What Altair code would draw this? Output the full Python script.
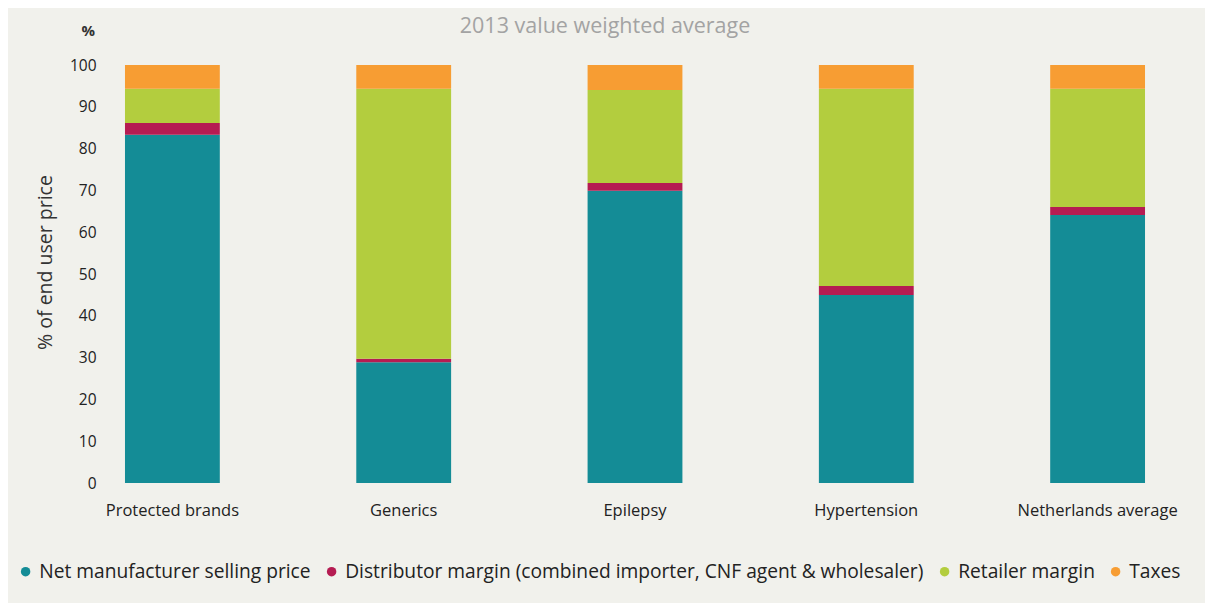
import altair as alt
import pandas as pd

categories = ["Protected brands", "Generics", "Epilepsy", "Hypertension", "Netherlands average"]
series = ["Net manufacturer selling price",
          "Distributor margin (combined importer, CNF agent & wholesaler)",
          "Retailer margin", "Taxes"]
net = [83.3, 28.9, 69.9, 45.0, 64.1]
dist = [2.8, 0.8, 1.9, 2.1, 1.9]
retail = [8.2, 64.6, 22.2, 47.2, 28.3]
taxes = [5.7, 5.7, 6.0, 5.7, 5.7]
colors = ["#148c96", "#b51c52", "#b3cd3e", "#f79d33"]
y_ticks = list(range(0, 101, 10))

rows = []
for vals, s_idx in zip([net, dist, retail, taxes], range(4)):
    for c, v in zip(categories, vals):
        rows.append({"category": c, "series": series[s_idx], "idx": s_idx, "value": v})
df = pd.DataFrame(rows)

FONT = "Open Sans"

bars = alt.Chart(df).mark_bar().encode(
    x=alt.X("category:N", sort=categories,
            scale=alt.Scale(paddingInner=0.59, paddingOuter=0.108),
            axis=alt.Axis(title=None, labelAngle=0, ticks=False, domain=False,
                          labelFontSize=16.5, labelColor="#222", labelPadding=19,
                          labelFont=FONT)),
    y=alt.Y("value:Q", stack="zero",
            scale=alt.Scale(domain=[0, 100], nice=False),
            axis=alt.Axis(values=y_ticks, grid=False, ticks=False, domain=False,
                          labelFontSize=15.5, labelColor="#222", labelPadding=4,
                          labelFont=FONT,
                          title="% of end user price", titleFontSize=19.5,
                          titleFontWeight="normal", titleColor="#333", titleFont=FONT,
                          titleX=-55, titleY=197, titleAlign="center",
                          titleBaseline="middle")),
    color=alt.Color("series:N", sort=series,
                    scale=alt.Scale(domain=series, range=colors),
                    legend=alt.Legend(title=None, orient="none", direction="horizontal",
                                      legendX=-84, legendY=497, symbolType="circle",
                                      symbolSize=90, symbolStrokeWidth=0,
                                      labelFontSize=19.2, labelColor="#222",
                                      labelFont=FONT, columnPadding=11,
                                      labelOffset=4, labelLimit=900)),
    order=alt.Order("idx:Q", sort="ascending"),
)

pct = alt.Chart(pd.DataFrame({"t": ["%"]})).mark_text(
    fontSize=15, font=FONT, fontWeight="bold", color="#333", align="right", baseline="middle"
).encode(text="t:N", x=alt.value(-5), y=alt.value(-34))

chart = alt.layer(bars, pct).properties(
    width=1070, height=418,
    background="#f1f1ec",
    padding={"left": 92, "top": 57, "right": 35, "bottom": 120},
    autosize=alt.AutoSizeParams(type="none"),
    title=alt.TitleParams("2013 value weighted average", fontSize=21.5, color="#a3a3a3",
                          fontWeight="normal", font=FONT, anchor="middle", dx=-30,
                          offset=20, dy=33),
).configure_view(stroke=None)

chart.save("out.html", embed_options={"renderer": "svg", "actions": False})
